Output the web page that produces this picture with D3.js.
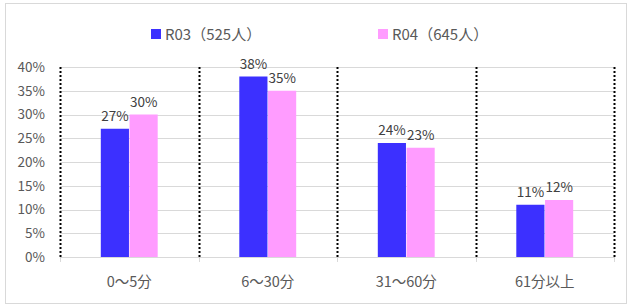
<!DOCTYPE html>
<html>
<head>
<meta charset="utf-8">
<script src="https://cdn.jsdelivr.net/npm/d3@7"></script>
<style>
  body { margin: 0; background: #fff; }
  text { font-family: "Noto Sans CJK JP", "Noto Sans", sans-serif; }
</style>
</head>
<body>
<div id="chart-area"></div>
<script>
// DATA
const categories = ["0～5分", "6～30分", "31～60分", "61分以上"]
const seriesNames = ["R03（525人）", "R04（645人）"]
const r03 = [27, 38, 24, 11]
const r04 = [30, 35, 23, 12]
const yTicks = [0, 5, 10, 15, 20, 25, 30, 35, 40]

const W = 630, H = 307
const MARGIN = { LEFT: 60, RIGHT: 16, TOP: 67, BOTTOM: 50 }
const WIDTH = W - MARGIN.LEFT - MARGIN.RIGHT
const HEIGHT = H - MARGIN.TOP - MARGIN.BOTTOM
const colors = ["#3c30ff", "#ff9cff"]

const svg = d3.select("#chart-area").append("svg")
  .attr("width", W)
  .attr("height", H)

// outer frame
svg.append("rect")
  .attr("x", 5.5).attr("y", 3.5)
  .attr("width", W - 9).attr("height", H - 7)
  .attr("fill", "#fff")
  .attr("stroke", "#d9d9d9")

const g = svg.append("g")
  .attr("transform", `translate(${MARGIN.LEFT}, ${MARGIN.TOP})`)

// SCALES
const x = d3.scaleBand()
  .domain(categories)
  .range([0, WIDTH])

const x1 = d3.scaleBand()
  .domain([0, 1])
  .range([0, x.bandwidth()])
  .paddingInner(0.02)
  .paddingOuter(1.42)

const y = d3.scaleLinear()
  .domain([0, 40])
  .range([HEIGHT, 0])

// GRIDLINES
g.selectAll("line.grid")
  .data(yTicks.slice(1))
  .enter().append("line")
  .attr("class", "grid")
  .attr("x1", 0).attr("x2", WIDTH)
  .attr("y1", d => Math.round(y(d)) + 0.5)
  .attr("y2", d => Math.round(y(d)) + 0.5)
  .attr("stroke", "#d9d9d9")

// Y AXIS labels
const yAxisCall = d3.axisLeft(y)
  .tickValues(yTicks)
  .tickSize(0)
  .tickPadding(15)
  .tickFormat(d => d + "%")
const yAxisGroup = g.append("g").call(yAxisCall)
yAxisGroup.select(".domain").remove()
yAxisGroup.selectAll("text")
  .attr("fill", "#595959")
  .style("font-size", "13.5px")

// X AXIS
const xAxisCall = d3.axisBottom(x).tickSize(0).tickPadding(20)
const xAxisGroup = g.append("g")
  .attr("transform", `translate(0, ${HEIGHT})`)
  .call(xAxisCall)
xAxisGroup.select(".domain").attr("stroke", "#d9d9d9")
xAxisGroup.selectAll("text")
  .attr("fill", "#595959")
  .style("font-size", "14.5px")

// boundary ticks below the axis
const bounds = categories.map(c => x(c)).concat([WIDTH])
g.selectAll("line.btick")
  .data(bounds)
  .enter().append("line")
  .attr("class", "btick")
  .attr("x1", d => Math.round(d) + 0.5).attr("x2", d => Math.round(d) + 0.5)
  .attr("y1", HEIGHT).attr("y2", HEIGHT + 5)
  .attr("stroke", "#d9d9d9")

// dotted separators
g.selectAll("line.sep")
  .data(bounds)
  .enter().append("line")
  .attr("class", "sep")
  .attr("x1", d => Math.round(d) + 0.5).attr("x2", d => Math.round(d) + 0.5)
  .attr("y1", 0).attr("y2", HEIGHT)
  .attr("stroke", "#000")
  .attr("stroke-width", 2)
  .attr("stroke-dasharray", "2,2")

// BARS
const series = [r03, r04]
series.forEach((vals, si) => {
  const grp = g.append("g")
  grp.selectAll("rect")
    .data(vals)
    .enter().append("rect")
    .attr("x", (d, i) => x(categories[i]) + x1(si))
    .attr("y", d => y(d))
    .attr("width", x1.bandwidth())
    .attr("height", d => HEIGHT - y(d))
    .attr("fill", colors[si])
  grp.selectAll("text")
    .data(vals)
    .enter().append("text")
    .attr("x", (d, i) => x(categories[i]) + x1(si) + x1.bandwidth() / 2)
    .attr("y", d => y(d) - 8)
    .attr("text-anchor", "middle")
    .attr("fill", "#404040")
    .style("font-size", "13.5px")
    .text(d => d + "%")
})

// LEGEND
const legendX = [151, 378]
const legend = svg.append("g")
seriesNames.forEach((name, i) => {
  legend.append("rect")
    .attr("x", legendX[i]).attr("y", 29)
    .attr("width", 10).attr("height", 10)
    .attr("fill", colors[i])
  legend.append("text")
    .attr("x", legendX[i] + 14).attr("y", 39.5)
    .attr("fill", "#595959")
    .style("font-size", "15px")
    .text(name)
})
</script>
</body>
</html>
